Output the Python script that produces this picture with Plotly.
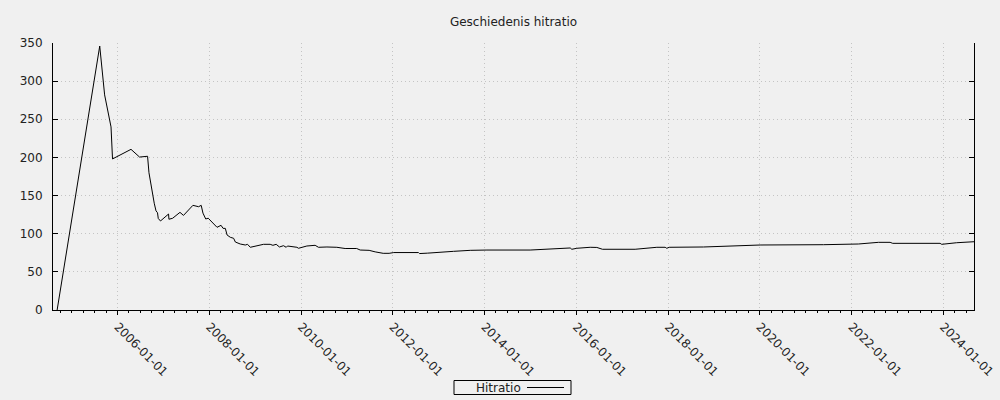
import plotly.graph_objects as go

dates = [
    "2004-09-06", "2005-08-11", "2005-09-19", "2005-11-09", "2005-11-21",
    "2006-04-17", "2006-06-24", "2006-08-27", "2006-09-07", "2006-09-17",
    "2006-10-01", "2006-10-19", "2006-11-02", "2006-11-14", "2006-11-20",
    "2006-12-08", "2007-02-10", "2007-02-13", "2007-03-14", "2007-05-12",
    "2007-06-09", "2007-08-23", "2007-10-07", "2007-10-28", "2007-11-11",
    "2007-12-03", "2007-12-23", "2008-01-21", "2008-02-09", "2008-03-02",
    "2008-04-03", "2008-04-19", "2008-05-07", "2008-05-21", "2008-06-16",
    "2008-07-12", "2008-07-26", "2008-09-03", "2008-10-13", "2008-10-31",
    "2008-11-22", "2009-01-14", "2009-03-07", "2009-04-29", "2009-05-21",
    "2009-06-16", "2009-07-12", "2009-08-13", "2009-09-04", "2009-09-14",
    "2009-11-28", "2009-12-11", "2010-02-15", "2010-04-22", "2010-05-19",
    "2010-07-25", "2010-09-29", "2010-10-12", "2010-12-17", "2011-03-19",
    "2011-04-16", "2011-06-26", "2011-08-13", "2011-10-16", "2011-12-02",
    "2012-01-08", "2012-07-23", "2012-07-31", "2012-10-01", "2012-12-17",
    "2013-04-28", "2013-09-08", "2014-01-19", "2014-12-29", "2015-06-06",
    "2015-11-13", "2015-11-26", "2016-01-05", "2016-04-20", "2016-06-12",
    "2016-07-27", "2017-04-13", "2017-10-03", "2017-12-08", "2017-12-21",
    "2018-01-09", "2018-10-09", "2019-09-19", "2020-01-03", "2021-05-21",
    "2022-02-23", "2022-08-02", "2022-11-03", "2022-11-24", "2023-12-06",
    "2023-12-19", "2024-04-16", "2024-09-01",
]
hitratio = [
    0, 346, 282, 240, 198,
    210.6, 200.5, 201.5, 180, 170,
    155, 140, 130, 127.5, 120,
    116.7, 125.8, 119, 120.2, 128,
    124, 137.2, 135.4, 137.2, 127,
    119.3, 120.3, 115.5, 112.8, 108.4,
    111, 107, 107, 98.3, 95.3,
    94, 89.1, 86.5, 85.2, 86.1,
    82.2, 84.3, 86.1, 86.1, 84.8,
    86.1, 82.6, 84.3, 82.2, 83.9,
    82.2, 80.9, 83.9, 84.8, 82.2,
    82.6, 83, 82.2, 80.6, 80.6,
    78.6, 78.2, 76.2, 74.3, 74.3,
    75.3, 75.3, 74, 74.5, 75.1,
    76.9, 78.2, 78.6, 78.6, 80,
    81.3, 79.6, 80.9, 82.2, 82,
    79.6, 79.6, 82.2, 82.2, 80.9,
    82.2, 82.6, 84.3, 85.2, 85.6,
    86.5, 88.7, 88.7, 87.4, 87.4,
    86.1, 88.2, 89.5,
]

title_text = "Geschiedenis hitratio"
series_name = "Hitratio"
x_range = ["2004-08-04", "2024-09-01"]
y_range = [0, 350]

bg = "#f0f0f0"
font_family = "DejaVu Sans"
grid_col = "#c4c4c4"

W, H = 1000, 400
ML, MR, MT, MB = 53, 26, 43, 90
PW, PH = W - ML - MR, H - MT - MB


def px_x(p):
    return (p - ML) / PW


def px_y(p):
    return (H - MB - p) / PH


fig = go.Figure()
fig.add_trace(go.Scatter(
    x=dates, y=hitratio, mode="lines", name=series_name,
    line=dict(color="black", width=1),
    showlegend=False,
))

# legend box drawn gnuplot-style: key text left, line sample right
legend_shapes = [
    dict(type="rect", xref="paper", yref="paper",
         x0=px_x(454), x1=px_x(571), y0=px_y(380.5), y1=px_y(394.5),
         line=dict(color="black", width=1), fillcolor=bg, layer="above"),
    dict(type="line", xref="paper", yref="paper",
         x0=px_x(527), x1=px_x(564), y0=px_y(387.5), y1=px_y(387.5),
         line=dict(color="black", width=1), layer="above"),
]
legend_text = dict(
    text=series_name, xref="paper", yref="paper",
    x=px_x(474), y=px_y(387.5), xanchor="left", yanchor="middle",
    showarrow=False, font=dict(size=12, color="#222"),
)

fig.update_layout(
    width=W, height=H,
    paper_bgcolor=bg, plot_bgcolor=bg,
    margin=dict(l=ML, r=MR, t=MT, b=MB),
    font=dict(family=font_family, size=12, color="#222"),
    title=dict(text=title_text, x=0.5135, xanchor="center", y=1 - 22 / 400,
               yanchor="middle", font=dict(size=12, color="#222")),
    showlegend=False,
    shapes=legend_shapes,
    annotations=[legend_text],
    xaxis=dict(
        type="date", range=x_range, automargin=False,
        tick0="2006-01-01", dtick="M24", tickformat="%Y-%m-%d",
        tickangle=45,
        showline=True, linecolor="black", linewidth=1,
        ticks="outside", ticklen=4, tickcolor="black",
        showgrid=True, gridcolor=grid_col, griddash="1px,3px", gridwidth=1,
        zeroline=False,
        minor=dict(dtick="M3", tick0="2006-01-01", ticks="outside", ticklen=2,
                   tickcolor="black", showgrid=False),
    ),
    yaxis=dict(
        range=y_range, dtick=50, automargin=False,
        showline=True, linecolor="black", linewidth=1, mirror="ticks",
        ticks="inside", ticklen=5, tickcolor="black",
        showgrid=True, gridcolor=grid_col, griddash="1px,3px", gridwidth=1,
        zeroline=False, ticklabelstandoff=7,
    ),
)

fig.write_html("out.html")
